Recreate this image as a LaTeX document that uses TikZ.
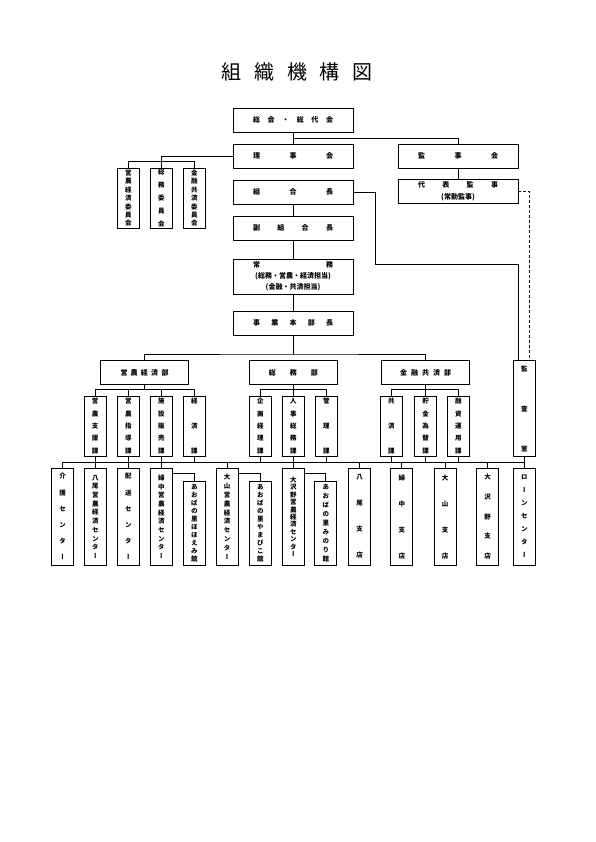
\documentclass[tikz,border=0pt]{standalone}
\usepackage{fontspec}
\newfontfamily\cjk{Noto Sans CJK JP}
\newfontfamily\cjkv[RawFeature=+vert]{Noto Sans CJK JP}
\usetikzlibrary{calc}
\newcommand\vf[1]{\fontsize{6.5}{#1}\selectfont\cjkv\bfseries}
\newcommand\spr[2]{\makebox[#1pt][s]{#2}}
\begin{document}
\begin{tikzpicture}[x=1pt,y=-1pt,
  hbox/.style={draw, line width=0.9pt, inner sep=0pt, minimum width=120pt, minimum height=24pt, align=center, font=\fontsize{7}{11}\selectfont\cjk\bfseries},
  dbox/.style={draw, line width=0.9pt, inner sep=0pt, minimum width=88pt, minimum height=23.6pt, align=center, font=\fontsize{7}{11}\selectfont\cjk\bfseries},
  vbox/.style={draw, line width=0.9pt, inner sep=0pt, minimum width=22pt, align=center},
  conn/.style={line width=0.7pt},
  dconn/.style={line width=0.7pt, dash pattern=on 3pt off 2pt}]
\useasboundingbox (0,0) rectangle (595,842);

\node[font=\fontsize{20}{24}\selectfont\cjk] (title) at (297.2,72) {\spr{151}{組\hfill 織\hfill 機\hfill 構\hfill 図}};

% main column
\node[hbox] (soukai) at (293,120.3) {\spr{80}{総\hfill 会\hfill ・\hfill 総\hfill 代\hfill 会}};
\node[hbox] (riji) at (293,156.3) {\spr{80}{理\hfill 事\hfill 会}};
\node[hbox] (kumi) at (293,192.3) {\spr{80}{組\hfill 合\hfill 長}};
\node[hbox] (fuku) at (293,228.3) {\spr{80}{副\hfill 組\hfill 合\hfill 長}};
\node[hbox, minimum height=35pt] (joumu) at (293,276.5) {\spr{80}{常\hfill 務}\\(総務・営農・経済担当)\\(金融・共済担当)};
\node[hbox] (jigyou) at (293,323) {\spr{80}{事\hfill 業\hfill 本\hfill 部\hfill 長}};

\node[hbox] (kanji) at (458,156.3) {\spr{80}{監\hfill 事\hfill 会}};
\node[hbox, font=\fontsize{7}{12}\selectfont\cjk\bfseries] (daihyo) at (458,191.3) {\spr{80}{代\hfill 表\hfill 監\hfill 事}\\(常勤監事)};

% committees
\node[vbox, minimum height=60pt, font=\vf{8.4}] (i1) at (128.3,198.3) {営\\農\\経\\済\\委\\員\\会};
\node[vbox, minimum height=60pt, font=\vf{12.9}] (i2) at (161.3,198.3) {総\\務\\委\\員\\会};
\node[vbox, minimum height=60pt, font=\vf{8.4}] (i3) at (194.3,198.3) {金\\融\\共\\済\\委\\員\\会};

% audit room
\node[vbox, minimum height=95.5pt, font=\vf{40}] (kansa) at (524.3,408.5) {監\\査\\室};

% divisions
\node[dbox] (eino) at (144.5,372.5) {\spr{48}{営\hfill 農\hfill 経\hfill 済\hfill 部}};
\node[dbox] (soumu) at (293.3,372.5) {\spr{49}{総\hfill 務\hfill 部}};
\node[dbox] (kinyu) at (425.5,372.5) {\spr{51}{金\hfill 融\hfill 共\hfill 済\hfill 部}};

% sections
\node[vbox, minimum height=60pt, font=\vf{12.3}] (k1) at (95.2,426) {営\\農\\支\\援\\課};
\node[vbox, minimum height=60pt, font=\vf{12.3}] (k2) at (128.3,426) {営\\農\\指\\導\\課};
\node[vbox, minimum height=60pt, font=\vf{12.3}] (k3) at (161.3,426) {施\\設\\販\\売\\課};
\node[vbox, minimum height=60pt, font=\vf{24.6}] (k4) at (194.3,426) {経\\済\\課};
\node[vbox, minimum height=60pt, font=\vf{12.3}] (s1) at (260.3,426) {企\\画\\経\\理\\課};
\node[vbox, minimum height=60pt, font=\vf{12.3}] (s2) at (293.3,426) {人\\事\\総\\務\\課};
\node[vbox, minimum height=60pt, font=\vf{24.6}] (s3) at (326.3,426) {管\\理\\課};
\node[vbox, minimum height=60pt, font=\vf{24.6}] (f1) at (391.3,426) {共\\済\\課};
\node[vbox, minimum height=60pt, font=\vf{12.3}] (f2) at (425.7,426) {貯\\金\\為\\替\\課};
\node[vbox, minimum height=60pt, font=\vf{12.3}] (f3) at (458.3,426) {融\\資\\運\\用\\課};

% bottom row
\node[vbox, minimum height=96.7pt, font=\vf{16.2}] (b1) at (62.5,516.7) {介\\護\\セ\\ン\\タ\\ー};
\node[vbox, minimum height=96.7pt, font=\vf{8.7}] (b2) at (95.3,516.7) {八\\尾\\営\\農\\経\\済\\セ\\ン\\タ\\ー};
\node[vbox, minimum height=96.7pt, font=\vf{16.2}] (b3) at (128.3,516.7) {配\\送\\セ\\ン\\タ\\ー};
\node[vbox, minimum height=96.7pt, font=\vf{8.7}] (b4) at (161.3,516.7) {婦\\中\\営\\農\\経\\済\\セ\\ン\\タ\\ー};
\node[vbox, minimum height=83.3pt, font=\vf{8}] (a1) at (194.3,523.3) {あ\\お\\ば\\の\\里\\ほ\\ほ\\え\\み\\館};
\node[vbox, minimum height=96.7pt, font=\vf{8.8}] (b5) at (227.2,516.7) {大\\山\\営\\農\\経\\済\\セ\\ン\\タ\\ー};
\node[vbox, minimum height=83.3pt, font=\vf{8}] (a2) at (260.3,523.3) {あ\\お\\ば\\の\\里\\や\\ま\\び\\こ\\館};
\node[vbox, minimum height=96.7pt, font=\vf{7.4}] (b6) at (293.3,516.7) {大\\沢\\野\\営\\農\\経\\済\\セ\\ン\\タ\\ー};
\node[vbox, minimum height=83.3pt, font=\vf{9}] (a3) at (325.8,523.3) {あ\\お\\ば\\の\\里\\み\\の\\り\\館};
\node[vbox, minimum height=96.7pt, font=\vf{26}] (b7) at (359.5,516.7) {八\\尾\\支\\店};
\node[vbox, minimum height=96.7pt, font=\vf{26}] (b8) at (401.8,516.7) {婦\\中\\支\\店};
\node[vbox, minimum height=96.7pt, font=\vf{26}] (b9) at (445,516.7) {大\\山\\支\\店};
\node[vbox, minimum height=96.7pt, font=\vf{19.6}] (b10) at (487.7,516.7) {大\\沢\\野\\支\\店};
\node[vbox, minimum height=96.7pt, font=\vf{13}] (b11) at (524.3,516.7) {ロ\\ー\\ン\\セ\\ン\\タ\\ー};

% connectors: top
\coordinate (j1) at (293,138.3);
\draw[conn] (soukai.south) -- (riji.north);
\draw[conn] (j1) -| (kanji.north);
\draw[conn] (kanji.south) -- (daihyo.north);
\draw[conn] (riji.west) -| (i2.north);
\draw[conn] (i1.north) -- ++(0,-6.6) -| (i3.north);
\draw[conn] (kumi.south) -- (fuku.north);
\draw[conn] (fuku.south) -- (joumu.north);
\draw[conn] (joumu.south) -- (jigyou.north);
\coordinate (k0) at (375.7,264.3);
\draw[conn] (kumi.east) -| (k0) -| ($(kansa.north)+(-6,0)$);
\draw[dconn] (daihyo.east) -| ($(kansa.north)+(5,0)$);

% divisions
\coordinate (bar1) at (293,354);
\draw[conn] (jigyou.south) -- (bar1);
\draw[conn] (eino.north) |- (bar1) -| (kinyu.north);

% sections bars
\draw[conn] (eino.south) -- ++(0,5.7);
\draw[conn] (k1.north) -- ++(0,-6) -| (k4.north);
\draw[conn] (k2.north) -- ++(0,-6);
\draw[conn] (k3.north) -- ++(0,-6);
\draw[conn] (soumu.south) -- ++(0,5.7);
\draw[conn] (s1.north) -- ++(0,-6) -| (s3.north);
\draw[conn] (s2.north) -- ++(0,-6);
\draw[conn] (kinyu.south) -- ++(0,5.7);
\draw[conn] (f1.north) -- ++(0,-6) -| (f3.north);
\draw[conn] (f2.north) -- ++(0,-6);

% bottom bar
\draw[conn] (b1.north) -- ++(0,-5.8) -| (b11.north);
\foreach \n in {k1,k2,k3,k4,s1,s2,s3,f1,f2,f3} {\draw[conn] (\n.south) -- ++(0,6.5);}
\foreach \n in {b2,b3,b4,b5,b6,b7,b8,b9,b10} {\draw[conn] (\n.north) -- ++(0,-5.8);}
\draw[conn] (kansa.south) -- (b11.north);

% children
\draw[conn] ($(b4.north east)+(0,5.7)$) -| (a1.north);
\draw[conn] ($(b5.north east)+(0,5.7)$) -| (a2.north);
\draw[conn] ($(b6.north east)+(0,5.7)$) -| (a3.north);
\end{tikzpicture}
\end{document}
